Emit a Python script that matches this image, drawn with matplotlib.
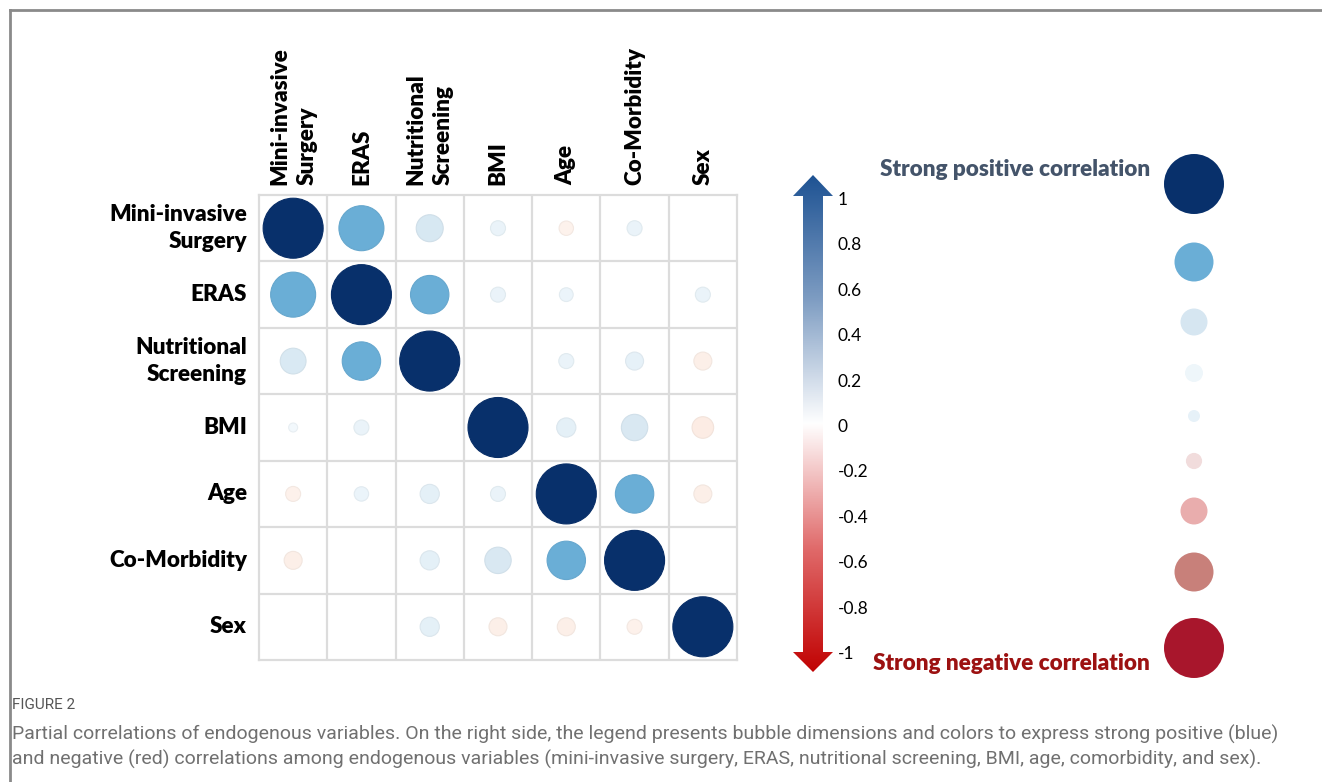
import numpy as np
import matplotlib
matplotlib.use("Agg")
import matplotlib.pyplot as plt
from matplotlib.colors import LinearSegmentedColormap
from matplotlib.patches import Polygon
from matplotlib.lines import Line2D

# ---------------- data ----------------
row_labels = ["Mini-invasive\nSurgery", "ERAS", "Nutritional\nScreening", "BMI",
              "Age", "Co-Morbidity", "Sex"]
col_labels = ["Mini-invasive\nSurgery", "ERAS", "Nutritional\nScreening", "BMI",
              "Age", "Co-Morbidity", "Sex"]

corr = [
    [1.00, 0.75, 0.45, 0.25, -0.24, 0.25, 0.00],
    [0.75, 1.00, 0.64, 0.25, 0.23, 0.00, 0.25],
    [0.43, 0.64, 1.00, 0.00, 0.25, 0.30, -0.30],
    [0.15, 0.25, 0.00, 1.00, 0.32, 0.44, -0.36],
    [-0.25, 0.24, 0.32, 0.25, 1.00, 0.64, -0.30],
    [-0.30, 0.00, 0.32, 0.44, 0.64, 1.00, 0.00],
    [0.00, 0.00, 0.32, -0.30, -0.30, -0.25, 1.00],
]

cbar_ticks = [1, 0.8, 0.6, 0.4, 0.2, 0, -0.2, -0.4, -0.6, -0.8, -1]
cbar_ticklabels = ["1", "0.8", "0.6", "0.4", "0.2", "0", "-0.2", "-0.4", "-0.6", "-0.8", "-1"]

legend_sizes = [1.0, 0.65, 0.45, 0.30, 0.20, -0.27, -0.45, -0.65, -1.0]
legend_colors = ["#08306b", "#6aaed6", "#d6e6f1", "#eef6fa", "#e6f1f8",
                 "#f1dcdc", "#e9adad", "#c8807a", "#a8162c"]
legend_ypx = [184, 262, 322, 373, 416, 461, 511, 572, 648]

pos_label = "Strong positive correlation"
neg_label = "Strong negative correlation"
fig_label = "FIGURE 2"
caption = ("Partial correlations of endogenous variables. On the right side, the legend presents bubble dimensions and colors to express strong positive (blue)\n"
           "and negative (red) correlations among endogenous variables (mini-invasive surgery, ERAS, nutritional screening, BMI, age, comorbidity, and sex).")

# ---------------- style ----------------
W, H = 1322, 782
DPI = 100
FONT = "Lato"
R_MAX = 30.0  # pixel radius of |r| = 1

cmap = LinearSegmentedColormap.from_list("corr", [
    (0.000, "#a50f15"),
    (0.250, "#f8dccf"),
    (0.320, "#fcede5"),
    (0.400, "#fdf3ee"),
    (0.500, "#ffffff"),
    (0.600, "#eef6fb"),
    (0.650, "#e6f1f8"),
    (0.725, "#d8e8f2"),
    (0.790, "#7fb8dc"),
    (0.820, "#6aaed6"),
    (0.900, "#6aaed6"),
    (0.960, "#2b64a0"),
    (1.000, "#08306b"),
])

def px_to_s(r_px):
    d_pt = 2 * r_px * 72.0 / DPI
    return d_pt ** 2

fig = plt.figure(figsize=(W / DPI, H / DPI), dpi=DPI)
fig.patch.set_facecolor("white")

ov = fig.add_axes([0, 0, 1, 1])
ov.set_xlim(0, W)
ov.set_ylim(H, 0)
ov.axis("off")

ov.add_line(Line2D([10, W], [10, 10], color="#8a8a8a", lw=2.0))
ov.add_line(Line2D([10, 10], [10, H], color="#8a8a8a", lw=2.0))

# ---------------- matrix ----------------
gx0, gx1, gy0, gy1 = 259, 737, 195, 660
ax = fig.add_axes([gx0 / W, 1 - gy1 / H, (gx1 - gx0) / W, (gy1 - gy0) / H])
n = len(row_labels)
ax.set_xlim(0, n)
ax.set_ylim(n, 0)
ax.set_xticks([])
ax.set_yticks([])
for sp in ax.spines.values():
    sp.set_color("#dcdcdc")
    sp.set_linewidth(1.6)
for k in range(1, n):
    ax.axhline(k, color="#dcdcdc", lw=1.6, zorder=1)
    ax.axvline(k, color="#dcdcdc", lw=1.6, zorder=1)

C = np.array(corr)
ii, jj = np.nonzero(C)
vals = C[ii, jj]
faces = cmap((vals + 1) / 2)
edges = faces.copy()
edges[:, :3] = edges[:, :3] * 0.96
ax.scatter(jj + 0.5, ii + 0.5, s=px_to_s(R_MAX * np.abs(vals)),
           c=faces, edgecolors=edges, linewidths=0.8, zorder=3)

cell_h = (gy1 - gy0) / n
cell_w = (gx1 - gx0) / n
LBL = 16.2
for i, lab in enumerate(row_labels):
    ov.text(247, gy0 + (i + 0.5) * cell_h, lab, ha="right", va="center",
            multialignment="right", fontsize=LBL, fontweight="heavy",
            family=FONT, color="black", linespacing=1.36)
for j, lab in enumerate(col_labels):
    ov.text(gx0 + (j + 0.5) * cell_w, 185, lab, ha="center", va="bottom",
            rotation=90, multialignment="left", fontsize=LBL,
            fontweight="heavy", family=FONT, color="black", linespacing=1.36)

# ---------------- gradient arrow ----------------
ax_x0, ax_x1, ax_y0, ax_y1 = 790, 836, 172, 675
arr = fig.add_axes([ax_x0 / W, 1 - ax_y1 / H, (ax_x1 - ax_x0) / W, (ax_y1 - ax_y0) / H])
arr.set_xlim(ax_x0, ax_x1)
arr.set_ylim(ax_y1, ax_y0)
arr.axis("off")
arrow_cmap = LinearSegmentedColormap.from_list("arr", [
    (0.0, "#c00000"), (0.25, "#e06a6a"), (0.5, "#ffffff"),
    (0.75, "#7d9cc2"), (1.0, "#1c5192")])
grad = np.linspace(1, 0, 256).reshape(-1, 1)
im = arr.imshow(grad, cmap=arrow_cmap, aspect="auto",
                extent=[ax_x0, ax_x1, ax_y1, ax_y0], origin="upper")
poly = [(813, 175), (833, 196), (823, 196), (823, 652), (833, 652), (813, 672),
        (793, 652), (803, 652), (803, 196), (793, 196)]
clip = Polygon(poly, closed=True, transform=arr.transData, facecolor="none", edgecolor="none")
arr.add_patch(clip)
im.set_clip_path(clip)

def v_to_y(v):
    return 427 - 227 * v

for t, tl in zip(cbar_ticks, cbar_ticklabels):
    ov.text(838, v_to_y(t), tl, ha="left", va="center", fontsize=12.5,
            family=FONT, color="black")

# ---------------- legend bubbles ----------------
ov.scatter([1194] * len(legend_sizes), legend_ypx,
           s=px_to_s(R_MAX * np.abs(np.array(legend_sizes))),
           c=legend_colors, edgecolors="none", zorder=3)
ov.text(1150, 170, pos_label, ha="right", va="center", fontsize=LBL,
        fontweight="heavy", family=FONT, color="#44546a")
ov.text(1150, 663, neg_label, ha="right", va="center", fontsize=LBL,
        fontweight="heavy", family=FONT, color="#9c1111")

# ---------------- caption ----------------
ov.text(12, 705, fig_label, ha="left", va="center", fontsize=11,
        family="Roboto", color="#555555")
ov.text(12, 747, caption, ha="left", va="center", fontsize=14.0,
        family="Roboto", color="#707070", linespacing=1.35)

fig.savefig("out.png", dpi=DPI, facecolor="white")
